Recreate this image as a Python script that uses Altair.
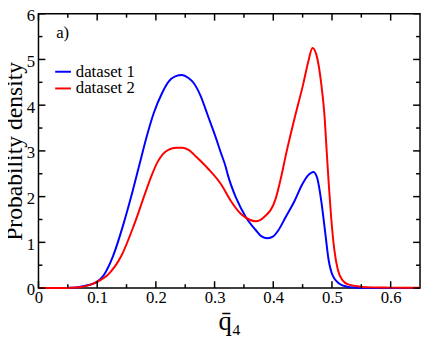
import altair as alt
import pandas as pd

series_names = ["dataset 1", "dataset 2"]
series_colors = ["#0000ff", "#ff0000"]

x_blue = [0.0, 0.04, 0.055, 0.067, 0.08, 0.097, 0.1105, 0.127, 0.145, 0.160, 0.172, 0.183,
          0.197, 0.210, 0.222, 0.233, 0.2446, 0.255, 0.264, 0.276, 0.288, 0.304, 0.3104,
          0.319, 0.3227, 0.3367, 0.3534, 0.370, 0.380, 0.390, 0.400, 0.409, 0.421, 0.436,
          0.449, 0.4596, 0.4685, 0.475, 0.4818, 0.4886, 0.4941, 0.5013, 0.5126, 0.5265,
          0.54, 0.55, 0.65]
y_blue = [0.0, 0.0, 0.005, 0.02, 0.05, 0.12, 0.27, 0.70, 1.41, 2.1, 2.7, 3.25,
          3.85, 4.25, 4.52, 4.63, 4.66, 4.60, 4.49, 4.21, 3.79, 3.22, 2.97,
          2.65, 2.47, 1.97, 1.55, 1.27, 1.13, 1.09, 1.13, 1.27, 1.55, 1.90,
          2.26, 2.47, 2.54, 2.40, 1.90, 1.20, 0.63, 0.27, 0.096, 0.03,
          0.01, 0.0, 0.0]

x_red = [0.0, 0.04, 0.055, 0.07, 0.085, 0.099, 0.119, 0.141, 0.1636, 0.183, 0.193, 0.203,
         0.212, 0.222, 0.235, 0.245, 0.255, 0.2696, 0.289, 0.3116, 0.328, 0.345, 0.359,
         0.370, 0.384, 0.404, 0.412, 0.423, 0.437, 0.451, 0.4596, 0.4668, 0.4735, 0.4818,
         0.4874, 0.4908, 0.4946, 0.4986, 0.504, 0.5098, 0.518, 0.529, 0.548, 0.57, 0.60, 0.65]
y_red = [0.0, 0.0, 0.005, 0.02, 0.06, 0.13, 0.30, 0.70, 1.41, 2.12, 2.47, 2.76,
         2.93, 3.03, 3.07, 3.07, 3.03, 2.86, 2.61, 2.26, 1.90, 1.62, 1.50,
         1.46, 1.55, 1.95, 2.35, 3.0, 3.75, 4.46, 4.95, 5.25, 5.10, 4.46,
         3.75, 3.04, 2.26, 1.55, 0.84, 0.41, 0.17, 0.074, 0.03, 0.015, 0.01, 0.005]

x_major = [0.0, 0.1, 0.2, 0.3, 0.4, 0.5, 0.6]
x_minor = [0.05, 0.15, 0.25, 0.35, 0.45, 0.55]
y_major = [0, 1, 2, 3, 4, 5, 6]
y_minor = [0.5, 1.5, 2.5, 3.5, 4.5, 5.5]

W, H = 388, 279
FONT = "Liberation Serif, Times New Roman, Times, DejaVu Serif, serif"

curves = pd.concat([
    pd.DataFrame({"x": x_blue, "y": y_blue, "series": series_names[0]}),
    pd.DataFrame({"x": x_red, "y": y_red, "series": series_names[1]}),
], ignore_index=True)

xscale = alt.Scale(domain=[0, 0.65], nice=False, zero=False)
yscale = alt.Scale(domain=[0, 6], nice=False, zero=False)

lines = alt.Chart(curves).mark_line(strokeWidth=2, interpolate="monotone").encode(
    x=alt.X("x:Q", scale=xscale,
            axis=alt.Axis(values=x_major, ticks=False, domain=False, grid=False,
                          labelExpr="datum.value == 0 ? '0' : format(datum.value, '.1f')",
                          labelFont=FONT, labelFontSize=17, labelColor="black",
                          labelPadding=2, labelFlush=False,
                          title="q\u0304\u2084", titleFont=FONT, titleFontSize=27,
                          titleFontWeight="normal", titleColor="black",
                          titleX=W / 2, titleY=42, titleBaseline="alphabetic")),
    y=alt.Y("y:Q", scale=yscale,
            axis=alt.Axis(values=y_major, ticks=False, domain=False, grid=False,
                          labelFont=FONT, labelFontSize=17, labelColor="black",
                          labelPadding=4, labelFlush=False, labelOffset=2,
                          title="Probability density", titleFont=FONT, titleFontSize=24,
                          titleFontWeight="normal", titleColor="black",
                          titleAngle=270, titleX=-17, titleY=H / 2,
                          titleAlign="center", titleBaseline="alphabetic")),
    color=alt.Color("series:N",
                    scale=alt.Scale(domain=series_names, range=series_colors),
                    legend=alt.Legend(orient="none", legendX=16, legendY=50, title=None,
                                      symbolType="stroke", symbolSize=256,
                                      symbolStrokeWidth=2, labelFont=FONT,
                                      labelFontSize=17, labelColor="black",
                                      labelOffset=4, rowPadding=0, padding=0)),
)


def xticks(vals, length, top):
    df = pd.DataFrame({"v": vals})
    if top:
        yy, yy2 = alt.value(0), alt.value(length)
    else:
        yy, yy2 = alt.value(H), alt.value(H - length)
    return alt.Chart(df).mark_rule(color="black", strokeWidth=1.5).encode(
        x=alt.X("v:Q", scale=xscale), y=yy, y2=yy2)


def yticks(vals, length, right):
    df = pd.DataFrame({"v": vals})
    if right:
        xx, xx2 = alt.value(W), alt.value(W - length)
    else:
        xx, xx2 = alt.value(0), alt.value(length)
    return alt.Chart(df).mark_rule(color="black", strokeWidth=1.5).encode(
        y=alt.Y("v:Q", scale=yscale), x=xx, x2=xx2)


label = alt.Chart(pd.DataFrame({"t": ["a)"]})).mark_text(
    font=FONT, fontSize=17, align="left", baseline="middle", color="black"
).encode(x=alt.value(18), y=alt.value(20), text="t:N")

chart = alt.layer(
    lines,
    xticks(x_major, 7, False), xticks(x_minor, 4, False),
    xticks(x_major, 7, True), xticks(x_minor, 4, True),
    yticks(y_major, 7, False), yticks(y_minor, 4, False),
    yticks(y_major, 7, True), yticks(y_minor, 4, True),
    label,
).properties(
    width=W, height=H,
    background="white",
    autosize=alt.AutoSizeParams(type="none"),
    padding={"left": 31, "top": 3, "right": 1, "bottom": 51},
).configure_view(stroke="black", strokeWidth=1.5)

chart.save("out.html", embed_options={"renderer": "svg", "actions": False})
